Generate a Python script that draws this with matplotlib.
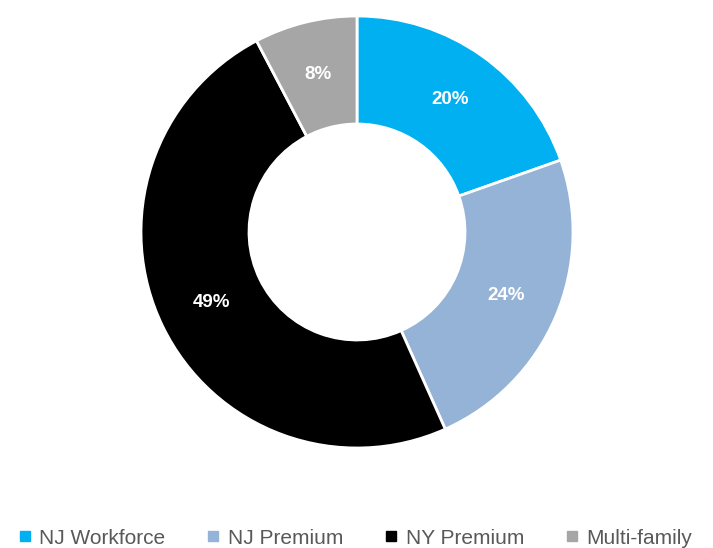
import matplotlib
matplotlib.use('Agg')
import matplotlib.pyplot as plt
from matplotlib.lines import Line2D

# Данные
segments = ['NJ Workforce', 'NJ Premium', 'NY Premium', 'Multi-family']
shares = [19.6, 23.7, 49.0, 7.7]
colors = ['#00B0F0', '#95B3D7', '#000000', '#A6A6A6']

fig = plt.figure(figsize=(7.13, 5.48), dpi=100)
ax = fig.add_axes([141 / 713, 100 / 548, 432 / 713, 432 / 548])

wedges, texts, autotexts = ax.pie(
    shares, colors=colors, startangle=90, counterclock=False,
    radius=1, autopct='%.0f%%', pctdistance=0.75,
    wedgeprops=dict(width=0.5, edgecolor='white', linewidth=2),
    textprops=dict(color='white', fontsize=13.5, fontweight='bold',
                   family=['Liberation Sans', 'DejaVu Sans']))
ax.set_xlim(-1, 1)
ax.set_ylim(-1, 1)
ax.set_aspect('equal')
ax.axis('off')

# Легенда внизу
handles = [Line2D([], [], marker='s', linestyle='none', markersize=7,
                  markerfacecolor=c, markeredgecolor=c) for c in colors]
fig.legend(handles, segments, loc='center', bbox_to_anchor=(0.497, 0.018),
           ncol=4, frameon=False, handletextpad=0.3, columnspacing=1.9,
           prop=dict(family=['Liberation Sans', 'DejaVu Sans'], size=15),
           labelcolor='#595959', handlelength=0.8)

fig.savefig('out.png', dpi=100)
